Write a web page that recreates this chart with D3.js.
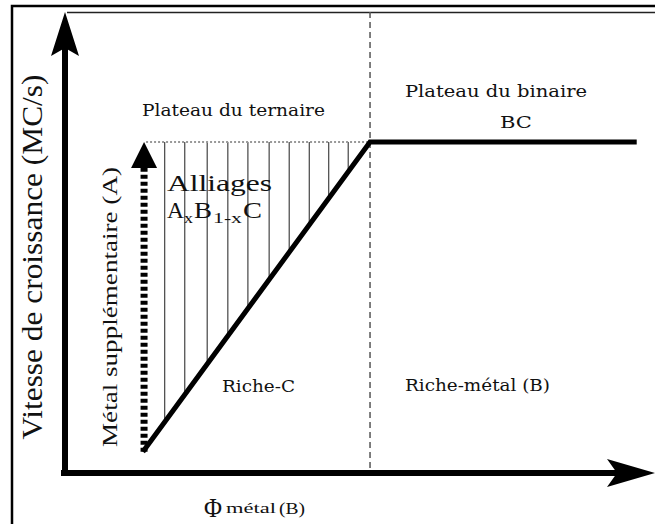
<!DOCTYPE html>
<html>
<head>
<meta charset="utf-8">
<script src="https://cdn.jsdelivr.net/npm/d3@7"></script>
<style>
  body { margin: 0; background: #fff; }
  svg { display: block; }
</style>
</head>
<body>
<div id="viz"></div>
<script>
// schematic values, in axis units (0..100 on both axes)
const growthX = [13.2, 51.7, 96.9]      // Φ métal (B)
const growthY = [4.6, 71.8, 71.8]       // vitesse de croissance
const hatchX = [16.9, 20.3, 24.1, 27.6, 31.0, 34.6, 38.0, 41.4, 44.7, 48.0]
const boundaryX = 51.7
const extraMetalX = 13.4
const extraMetalY = [4.6, 71.8]

const yTitle = "Vitesse de croissance (MC/s)"
const extraTitle = "Métal supplémentaire (A)"
const plateauLabels = ["Plateau du ternaire", "Plateau du binaire", "BC"]
const regionLabels = ["Riche-C", "Riche-métal (B)"]
const alloyLabel = "Alliages"

function drawChart () {
    const width = 655
    const height = 524

    const svg = d3.select("#viz")
                  .append("svg")
                  .attr("width", width)
                  .attr("height", height)

    svg.append("rect").attr("width", width).attr("height", height).attr("fill", "#fff")

    const x = d3.scaleLinear().domain([0, 100]).range([65, 655])
    const y = d3.scaleLinear().domain([0, 100]).range([473, 12])
    const line = d3.line()

    // frame
    svg.append("path")
       .attr("d", line([[12, height], [12, 6], [width, 6]]))
       .attr("fill", "none").attr("stroke", "#000").attr("stroke-width", 2.5)
    svg.append("line")
       .attr("x1", x(0) + 2).attr("x2", width)
       .attr("y1", 12.5).attr("y2", 12.5)
       .attr("stroke", "#222").attr("stroke-width", 1.5)

    // boundary between the two regimes
    svg.append("line")
       .attr("x1", x(boundaryX)).attr("x2", x(boundaryX))
       .attr("y1", y(100)).attr("y2", y(0))
       .attr("stroke", "#555").attr("stroke-width", 1.5)
       .attr("stroke-dasharray", "6,4")

    // hatching under the ternary plateau
    const diag = d3.scaleLinear().domain([growthX[0], growthX[1]]).range([growthY[0], growthY[1]])
    svg.append("g")
       .selectAll("line")
       .data(hatchX)
       .join("line")
       .attr("x1", d => x(d)).attr("x2", d => x(d))
       .attr("y1", y(growthY[1])).attr("y2", d => y(diag(d)))
       .attr("stroke", "#333").attr("stroke-width", 1.1)

    // dotted ternary plateau
    svg.append("line")
       .attr("x1", x(extraMetalX) + 2).attr("x2", x(boundaryX))
       .attr("y1", y(growthY[1])).attr("y2", y(growthY[1]))
       .attr("stroke", "#999").attr("stroke-width", 2)
       .attr("stroke-dasharray", "2,2")

    // growth curve
    svg.append("path")
       .attr("d", line(growthX.map((d, i) => [x(d), y(growthY[i])])))
       .attr("fill", "none").attr("stroke", "#000")
       .attr("stroke-width", 5).attr("stroke-linejoin", "miter")

    // dashed arrow: extra metal
    const ax = x(extraMetalX)
    svg.append("line")
       .attr("x1", ax).attr("x2", ax)
       .attr("y1", y(extraMetalY[0])).attr("y2", y(extraMetalY[1]) + 24)
       .attr("stroke", "#000").attr("stroke-width", 7)
       .attr("stroke-dasharray", "4,3")
    svg.append("path")
       .attr("d", line([[ax, y(extraMetalY[1])], [ax - 13, y(extraMetalY[1]) + 26], [ax + 13, y(extraMetalY[1]) + 26]]) + "Z")
       .attr("fill", "#000")

    // axes with arrow heads
    svg.append("line")
       .attr("x1", x(0)).attr("x2", x(0))
       .attr("y1", y(0) + 3).attr("y2", y(100) + 30)
       .attr("stroke", "#000").attr("stroke-width", 6)
    svg.append("path")
       .attr("d", line([[x(0), y(100)], [x(0) - 14, y(100) + 44], [x(0), y(100) + 36], [x(0) + 14, y(100) + 44]]) + "Z")
       .attr("fill", "#000")
    svg.append("line")
       .attr("x1", x(0) - 4).attr("x2", x(100) - 30)
       .attr("y1", y(0)).attr("y2", y(0))
       .attr("stroke", "#000").attr("stroke-width", 6)
    svg.append("path")
       .attr("d", line([[x(100), y(0)], [x(100) - 48, y(0) - 14], [x(100) - 38, y(0)], [x(100) - 48, y(0) + 14]]) + "Z")
       .attr("fill", "#000")

    // texts
    const slab = "'DejaVu Serif', 'Liberation Serif', 'Times New Roman', serif"
    const roman = "'Liberation Serif', 'Times New Roman', Tinos, 'DejaVu Serif', serif"
    function label (txt, px, py, size, len, family) {
        return svg.append("text")
                  .attr("x", px).attr("y", py)
                  .style("font-family", family || slab)
                  .attr("font-size", size)
                  .attr("textLength", len)
                  .attr("lengthAdjust", "spacingAndGlyphs")
                  .attr("fill", "#111")
                  .text(txt)
    }

    label(plateauLabels[0], 142, 116, 17, 183)
    label(plateauLabels[1], 405, 97, 17, 182)
    label(plateauLabels[2], 500, 128, 17, 32)
    label(regionLabels[0], 222, 392, 16, 73)
    label(regionLabels[1], 405, 391, 16, 145)

    label(alloyLabel, 167, 191, 23, 105, roman)
    label("A", 167, 218, 23, 17, roman)
    label("x", 184, 223, 14, 9, roman)
    label("B", 194, 218, 23, 18, roman)
    label("1-x", 213, 223, 15, 29, roman)
    label("C", 243, 218, 23, 19, roman)

    svg.append("text")
       .attr("transform", "translate(42,257) rotate(-90)")
       .attr("text-anchor", "middle")
       .style("font-family", roman).attr("font-size", 30)
       .attr("textLength", 365).attr("lengthAdjust", "spacingAndGlyphs")
       .attr("fill", "#111")
       .text(yTitle)
    svg.append("text")
       .attr("transform", "translate(117,307) rotate(-90)")
       .attr("text-anchor", "middle")
       .style("font-family", roman).attr("font-size", 21)
       .attr("textLength", 280).attr("lengthAdjust", "spacingAndGlyphs")
       .attr("fill", "#111")
       .text(extraTitle)

    label("Φ", 204, 517, 28, 18, roman)
    label("métal", 226, 513, 15, 50, roman)
    label("(B)", 279, 514, 17, 26, roman)
}

drawChart()
</script>
</body>
</html>
